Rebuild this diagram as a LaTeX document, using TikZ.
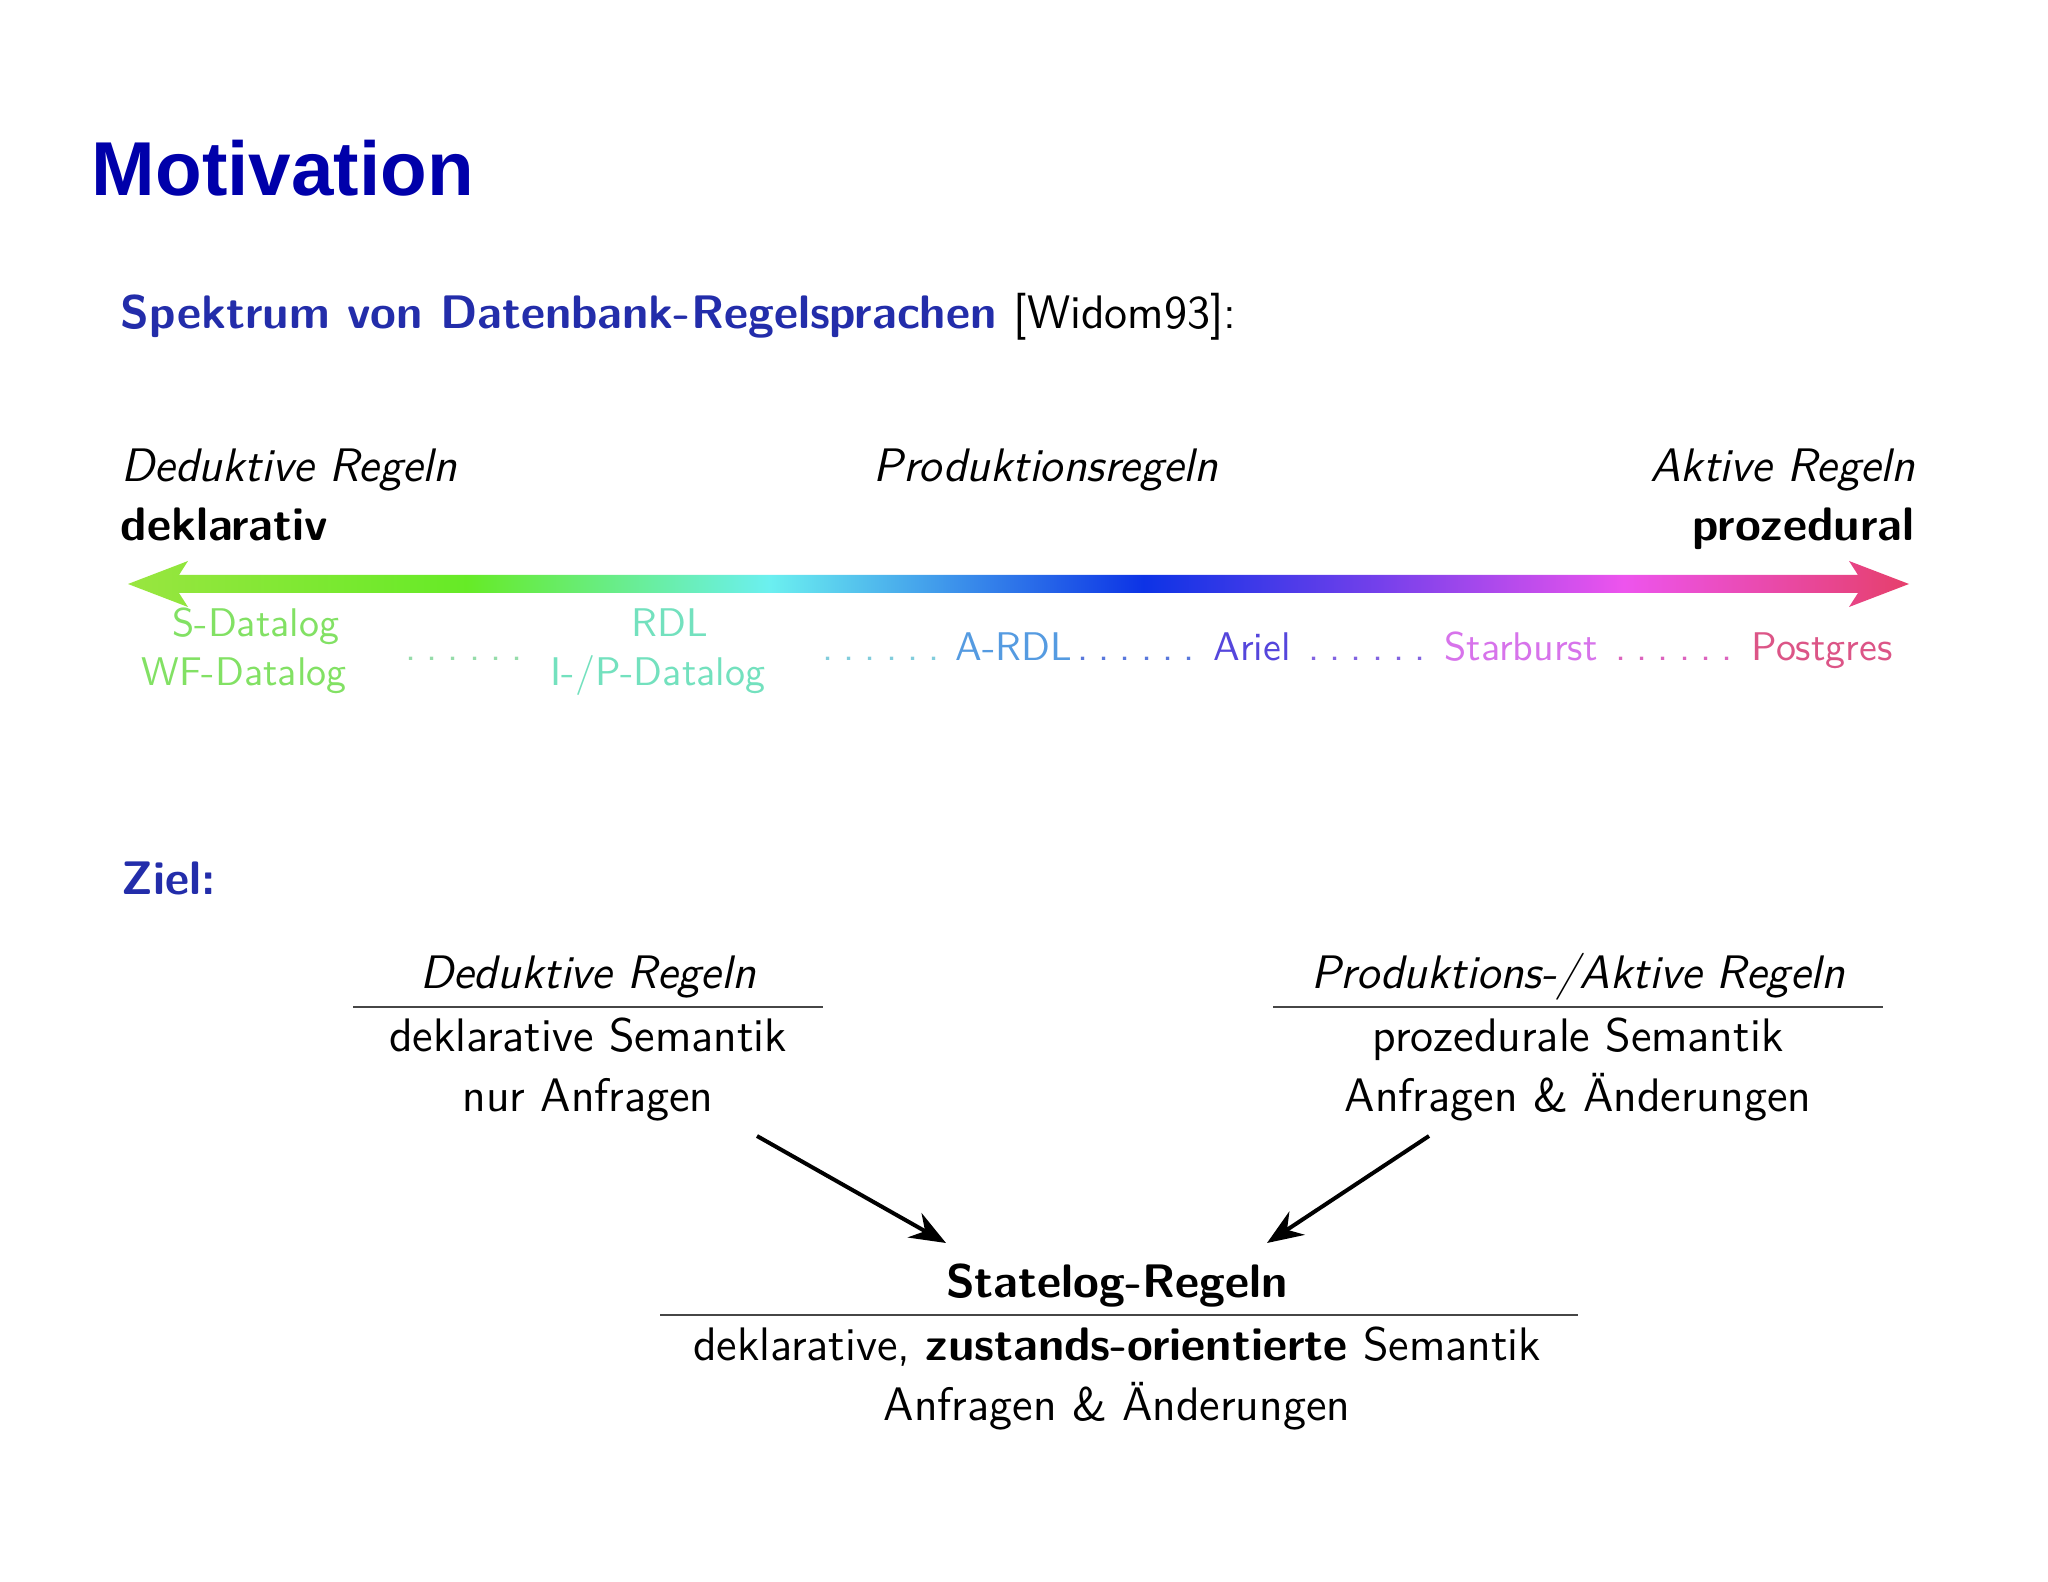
\documentclass[tikz,border=0pt]{standalone}
\usepackage{fontspec}
\newfontfamily\arialfont{Liberation Sans}
\usetikzlibrary{arrows.meta}
\definecolor{titleblue}{RGB}{0,0,170}
\definecolor{structblue}{RGB}{35,45,170}
\definecolor{cS}{RGB}{130,225,100}
\definecolor{cR}{RGB}{115,225,190}
\definecolor{cA}{RGB}{85,155,225}
\definecolor{cAr}{RGB}{85,70,220}
\definecolor{cSt}{RGB}{215,115,235}
\definecolor{cP}{RGB}{220,85,135}
\definecolor{dA}{RGB}{150,220,170}
\definecolor{dB}{RGB}{130,205,220}
\definecolor{dC}{RGB}{90,120,220}
\definecolor{dD}{RGB}{130,100,225}
\definecolor{dE}{RGB}{220,100,190}
\definecolor{rulegray}{RGB}{70,70,70}
\newcommand\sixdots{.\kern.25em.\kern.25em.\kern.25em.\kern.25em.\kern.25em.}
\pgfdeclarehorizontalshading{spectrum}{100bp}{rgb(0bp)=(0.6,0.9,0.25); rgb(25bp)=(0.6,0.9,0.25); rgb(34.5bp)=(0.40,0.92,0.15); rgb(43bp)=(0.42,0.94,0.94); rgb(53.5bp)=(0.05,0.2,0.9); rgb(60bp)=(0.45,0.25,0.92); rgb(67bp)=(0.93,0.33,0.93); rgb(75bp)=(0.9,0.25,0.42); rgb(100bp)=(0.9,0.25,0.42)}
\begin{document}
\begin{tikzpicture}[x=0.25pt,y=-0.25pt,
  txt/.style={font=\fontsize{11.75}{14}\selectfont\sffamily, inner sep=0pt, anchor=base},
  stxt/.style={txt, font=\fontsize{10}{12}\selectfont\sffamily},
  itxt/.style={txt, font=\fontsize{11.75}{14}\selectfont\sffamily\itshape},
  btxt/.style={txt, font=\fontsize{11.75}{14}\selectfont\sffamily\bfseries},
  headtxt/.style={txt, font=\fontsize{11.75}{14}\selectfont\sffamily\bfseries, text=structblue},
  rulestyle/.style={draw=rulegray, line width=0.7pt},
  flow/.style={draw=black, line width=1pt, -{Stealth[length=9pt,width=7pt,inset=3pt]}}]
\useasboundingbox[fill=white] (0,0) rectangle (2048,1582);
% title
\node[inner sep=0pt, anchor=base west, font=\fontsize{19.1}{22}\selectfont\arialfont\bfseries, text=titleblue] (title) at (91,196) {Motivation};
\node[headtxt, anchor=base west] (spek) at (120,329) {Spektrum von Datenbank-Regelsprachen \textmd{\color{black}[Widom93]:}};
% spectrum labels
\node[itxt, anchor=base west] (dedL) at (121,482) {Deduktive Regeln};
\node[itxt] (prod) at (1046,482) {Produktionsregeln};
\node[itxt, anchor=base east] (aktR) at (1916,482) {Aktive Regeln};
\node[btxt, anchor=base west] (dekl) at (120,541) {deklarativ};
\node[btxt, anchor=base east] (proz) at (1915,541) {prozedural};
% spectrum arrow
\shade[shading=spectrum] (128,584) -- (188,561) -- (179,575) -- (1858,575) -- (1849,561) -- (1909,584) -- (1849,607) -- (1858,593) -- (179,593) -- (188,607) -- cycle;
% languages
\node[stxt, text=cS] (sdl) at (256,637) {S-Datalog};
\node[stxt, text=cS] (wfdl) at (244,686) {WF-Datalog};
\node[stxt, text=dA] (d1) at (464,661) {\sixdots};
\node[stxt, text=cR] (rdl) at (670,637) {RDL};
\node[stxt, text=cR] (ipdl) at (658,686) {I-/P-Datalog};
\node[stxt, text=dB] (d2) at (881,661) {\sixdots};
\node[stxt, text=cA] (ardl) at (1014,661) {A-RDL};
\node[stxt, text=dC] (d3) at (1136,661) {\sixdots};
\node[stxt, text=cAr] (ariel) at (1252,661) {Ariel};
\node[stxt, text=dD] (d4) at (1367,661) {\sixdots};
\node[stxt, text=cSt] (star) at (1521,661) {Starburst};
\node[stxt, text=dE] (d5) at (1674,661) {\sixdots};
\node[stxt, text=cP] (postg) at (1822,661) {Postgres};
% Ziel
\node[headtxt, anchor=base west] (ziel) at (121,895) {Ziel:};
% left block
\node[itxt] (dedH) at (588,989) {Deduktive Regeln};
\draw[rulestyle] (353,1007) -- (823,1007);
\node[txt] (dedS) at (588,1051) {deklarative Semantik};
\node[txt] (dedA) at (588,1111) {nur Anfragen};
% right block
\node[itxt] (proH) at (1578,989) {Produktions-/Aktive Regeln};
\draw[rulestyle] (1273,1007) -- (1883,1007);
\node[txt] (proS) at (1578,1051) {prozedurale Semantik};
\node[txt] (proA) at (1578,1111) {Anfragen \& Änderungen};
% bottom block
\node[btxt] (stH) at (1117,1297) {Statelog-Regeln};
\draw[rulestyle] (660,1315) -- (1578,1315);
\node[txt] (stS) at (1117,1360) {deklarative, \textbf{zustands-orientierte} Semantik};
\node[txt] (stA) at (1117,1420) {Anfragen \& Änderungen};
% arrows
\coordinate (a1s) at (757,1136);
\coordinate (a1e) at (946,1243);
\coordinate (a2s) at (1429,1136);
\coordinate (a2e) at (1267,1243);
\draw[flow] (a1s) -- (a1e);
\draw[flow] (a2s) -- (a2e);
\end{tikzpicture}
\end{document}
